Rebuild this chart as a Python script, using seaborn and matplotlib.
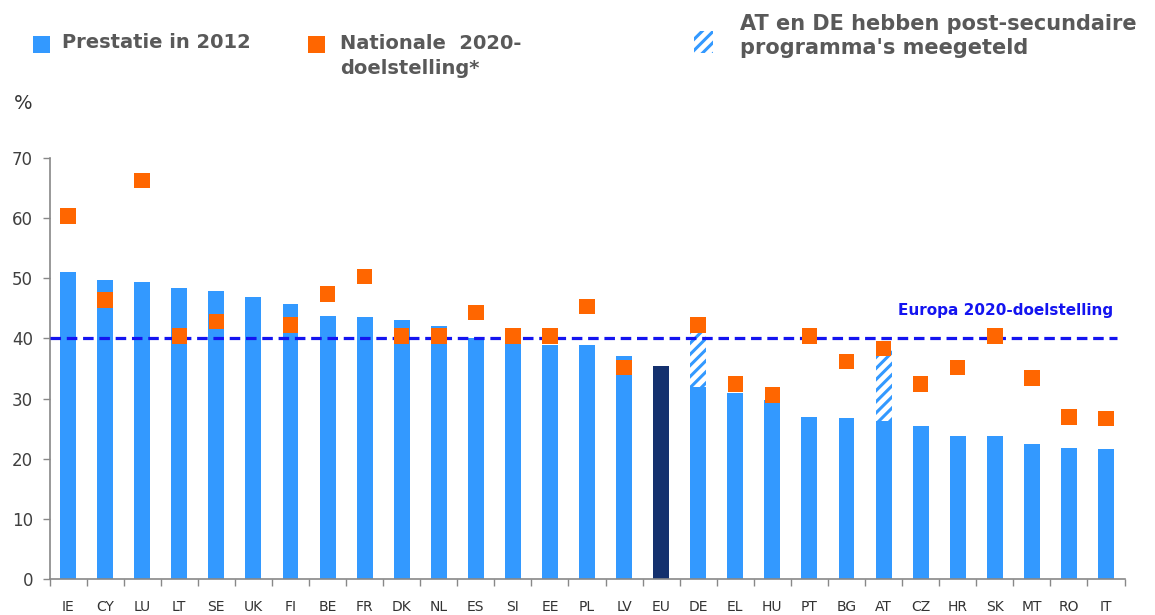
import numpy as np
import matplotlib
matplotlib.use("Agg")
import matplotlib.pyplot as plt
import seaborn as sns
from matplotlib.patches import Rectangle

# data
landen = ["IE", "CY", "LU", "LT", "SE", "UK", "FI", "BE", "FR", "DK", "NL", "ES", "SI", "EE", "PL",
          "LV", "EU", "DE", "EL", "HU", "PT", "BG", "AT", "CZ", "HR", "SK", "MT", "RO", "IT"]
prestatie_2012 = [51.0, 49.7, 49.4, 48.4, 47.9, 46.9, 45.7, 43.8, 43.5, 43.0, 42.1, 40.1, 39.3, 38.9, 38.9,
                  37.1, 35.5, 32.0, 30.9, 29.8, 27.0, 26.7, 26.2, 25.4, 23.7, 23.7, 22.4, 21.8, 21.6]
doel_2020 = [60.4, 46.4, 66.3, 40.4, 42.8, np.nan, 42.2, 47.4, 50.3, 40.4, 40.4, 44.3, 40.4, 40.4, 45.3,
             35.2, np.nan, 42.2, 32.4, 30.6, 40.4, 36.2, 38.3, 32.4, 35.2, 40.4, 33.4, 26.9, 26.7]
post_sec_landen = ["DE", "AT"]
post_sec_top = [42.5, 38.1]
eu_doel = 40

blauw = "#3399FF"
donker = "#14316E"
oranje = "#FF6600"
lijnblauw = "#1414F0"
tekst = "#595959"

sns.set_style("white")
plt.rcParams["font.family"] = ["DejaVu Sans"]
plt.rcParams["hatch.linewidth"] = 2.2

fig = plt.figure(figsize=(11.55, 6.15), dpi=100)
ax = fig.add_axes([0.0429, 0.0585, 0.9307, 0.6845])

kleuren = [donker if l == "EU" else blauw for l in landen]
sns.barplot(x=landen, y=prestatie_2012, hue=landen, palette=kleuren, legend=False,
            width=0.43, ax=ax, saturation=1, linewidth=0)

# gearceerde stukken (post-secundair)
for l, top in zip(post_sec_landen, post_sec_top):
    i = landen.index(l)
    basis = prestatie_2012[i]
    ax.bar(i, top - basis, bottom=basis, width=0.43, color="white", edgecolor=blauw,
           hatch="///", linewidth=0)

idx = np.arange(len(landen))
sns.scatterplot(x=idx, y=doel_2020, marker="s", s=125, color=oranje, edgecolor="none",
                ax=ax, zorder=5)

ax.plot([-0.5, 28.3], [eu_doel, eu_doel], color=lijnblauw, lw=2.3, ls=(0, (3.3, 1.8)), zorder=4)
ax.text(28.2, 44.6, "Europa 2020-doelstelling", color=lijnblauw, fontsize=11, fontweight="bold",
        ha="right", va="center")

ax.set_xlim(-0.5, 28.5)
ax.set_ylim(0, 70)
ax.set_yticks(range(0, 71, 10))
ax.tick_params(axis="y", labelsize=12, labelcolor="#404040", length=5, width=1, color="#888888",
               left=True, pad=7)
ax.set_xticks(idx)
ax.set_xticklabels(landen)
ax.set_xticks(np.arange(-0.5, 29, 1), minor=True)
ax.tick_params(axis="x", which="major", length=0, labelsize=10, labelcolor="#333333", pad=15)
ax.tick_params(axis="x", which="minor", length=5, width=1, color="#888888", bottom=True)
for s in ["top", "right"]:
    ax.spines[s].set_visible(False)
for s in ["left", "bottom"]:
    ax.spines[s].set_color("#888888")
    ax.spines[s].set_linewidth(1.2)
ax.set_xlabel("")
ax.set_ylabel("")

fig.text(0.012, 0.832, "%", fontsize=14, color="#333333", va="center")

# legenda boven
def vierkant(x, y, w, h, **kw):
    fig.add_artist(Rectangle((x / 1155, 1 - (y + h) / 615), w / 1155, h / 615,
                             transform=fig.transFigure, **kw))

vierkant(33, 36, 17, 17, color=blauw, lw=0)
fig.text(62 / 1155, 1 - 43 / 615, "Prestatie in 2012", fontsize=14, fontweight="bold",
         color=tekst, va="center")
vierkant(308, 36, 17, 17, color=oranje, lw=0)
fig.text(340 / 1155, 1 - 56 / 615, "Nationale  2020-\ndoelstelling*", fontsize=14,
         fontweight="bold", color=tekst, va="center", linespacing=1.45)
vierkant(694, 31, 19, 22, facecolor="white", edgecolor=blauw, hatch="///", lw=0)
fig.text(740 / 1155, 1 - 36 / 615, "AT en DE hebben post-secundaire\nprogramma's meegeteld",
         fontsize=15, fontweight="bold", color=tekst, va="center", linespacing=1.3)

fig.savefig("out.png", dpi=100)
